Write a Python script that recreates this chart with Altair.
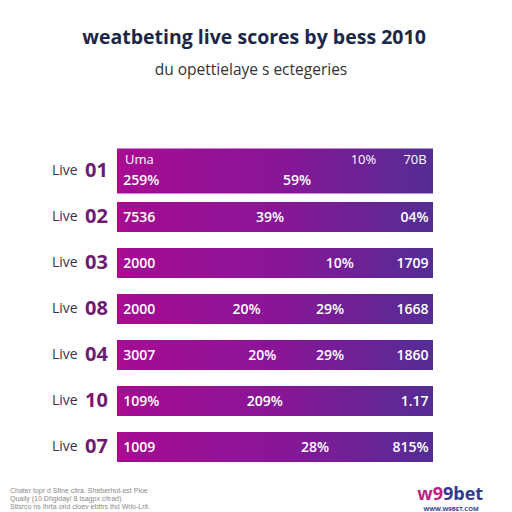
import altair as alt
import pandas as pd

# ---- data ----
rows = ["01", "02", "03", "08", "04", "10", "07"]
bar_start = [0, 0, 0, 0, 0, 0, 0]
bar_end = [100, 100, 100, 100, 100, 100, 100]
bar_thickness = [45, 30, 30, 30, 30, 30, 30]

# text inside bars: row, position along bar (0-100), label, alignment, line
txt_row = ["01", "01", "01", "01", "01",
           "02", "02", "02",
           "03", "03", "03",
           "08", "08", "08", "08",
           "04", "04", "04", "04",
           "10", "10", "10",
           "07", "07", "07"]
txt_pos = [2.5, 78, 98, 2, 57,
           2, 48.4, 98.6,
           2, 70.5, 98.6,
           2, 41, 67.4, 98.6,
           2, 46, 67.4, 98.6,
           2, 46.8, 98.6,
           2, 62.7, 98.6]
txt_label = ["Uma", "10%", "70B", "259%", "59%",
             "7536", "39%", "04%",
             "2000", "10%", "1709",
             "2000", "20%", "29%", "1668",
             "3007", "20%", "29%", "1860",
             "109%", "209%", "1.17",
             "1009", "28%", "815%"]
txt_align = ["left", "center", "right", "left", "center",
             "left", "center", "right",
             "left", "center", "right",
             "left", "center", "center", "right",
             "left", "center", "center", "right",
             "left", "center", "right",
             "left", "center", "right"]
txt_line = ["top", "top", "top", "bottom", "bottom"] + ["mid"] * 20

title_text = "weatbeting live scores by bess 2010"
subtitle_text = "du opettielaye s ectegeries"
footer_lines = ["Chater topr d Sfine citra. Sheberhut-est Ploe",
                "Quaily (10 Dhgiday/ 8 Isagpx citrad).",
                "Stisrco ns Ihrta orid cloev ebttrs thd Wrlo-Lrit."]

bars = pd.DataFrame({"row": rows, "x0": bar_start, "x1": bar_end, "h": bar_thickness})
texts = pd.DataFrame({"row": txt_row, "pos": txt_pos, "label": txt_label,
                      "al": txt_align, "ln": txt_line})

xs = alt.Scale(domain=[0, 100], range=[109, 425])
ys = alt.Scale(domain=rows, range=[140, 462], paddingInner=0, paddingOuter=0)
Y = alt.Y("row:N", scale=ys, axis=None, sort=rows)

grad = alt.LinearGradient(
    gradient="linear", x1=0, x2=1, y1=0, y2=0,
    stops=[alt.GradientStop(color="#a60c92", offset=0),
           alt.GradientStop(color="#8a1597", offset=0.5),
           alt.GradientStop(color="#542d95", offset=1)])

base = alt.Chart(bars)
bar_layer = base.mark_bar(color=grad).encode(
    x=alt.X("x0:Q", scale=xs, axis=None),
    x2="x1:Q",
    y=Y,
    size=alt.Size("h:Q", scale=None, legend=None),
)

live_layer = base.mark_text(align="left", baseline="middle", font="Open Sans",
                            fontSize=14, color="#3d2f50").encode(
    x=alt.value(44), y=Y, text=alt.value("Live"))
num_layer = base.mark_text(align="left", baseline="middle", font="Open Sans",
                           fontSize=20, fontWeight="bold", color="#6d1b6f").encode(
    x=alt.value(77), y=Y, text="row:N")

layers = [bar_layer, live_layer, num_layer]
line_dy = {"top": -11, "mid": 1, "bottom": 10}
tbase = alt.Chart(texts)
for line, dy in line_dy.items():
    for al in ["left", "center", "right"]:
        weight = "normal" if line == "top" else 600
        size = 13 if line == "top" else 14
        layers.append(
            tbase.transform_filter(
                (alt.datum.ln == line) & (alt.datum.al == al)
            ).mark_text(align=al, baseline="middle", dy=dy, font="Open Sans",
                        fontSize=size, fontWeight=weight, color="white").encode(
                x=alt.X("pos:Q", scale=xs, axis=None),
                y=Y,
                text="label:N"))

title_layer = alt.Chart(pd.DataFrame({"t": [title_text]})).mark_text(
    font="Open Sans", fontSize=19.5, fontWeight="bold", color="#1c2748",
    align="center", baseline="middle").encode(x=alt.value(246), y=alt.value(30), text="t:N")
subtitle_layer = alt.Chart(pd.DataFrame({"t": [subtitle_text]})).mark_text(
    font="Open Sans", fontSize=15.5, color="#333333",
    align="center", baseline="middle").encode(x=alt.value(243), y=alt.value(62), text="t:N")
layers += [title_layer, subtitle_layer]

for i, ftxt in enumerate(footer_lines):
    layers.append(alt.Chart(pd.DataFrame({"t": [ftxt]})).mark_text(
        font="Liberation Sans", fontSize=7, color="#8a8a8a", align="left",
        baseline="middle").encode(x=alt.value(2), y=alt.value(483 + 8 * i), text="t:N"))

logo1 = alt.Chart(pd.DataFrame({"t": ["w9"]})).mark_text(
    font="Open Sans", fontSize=18, fontWeight="bold", color="#c01f86",
    align="right", baseline="middle").encode(x=alt.value(435), y=alt.value(487), text="t:N")
logo2 = alt.Chart(pd.DataFrame({"t": ["9bet"]})).mark_text(
    font="Open Sans", fontSize=18, fontWeight="bold", color="#2f3a8e",
    align="left", baseline="middle").encode(x=alt.value(435), y=alt.value(487), text="t:N")
logo3 = alt.Chart(pd.DataFrame({"t": ["WWW.W9BET.COM"]})).mark_text(
    font="Open Sans", fontSize=6, fontWeight="bold", color="#2f3a8e",
    align="center", baseline="middle").encode(x=alt.value(443), y=alt.value(501), text="t:N")
layers += [logo1, logo2, logo3]

chart = alt.layer(*layers).properties(
    width=496, height=504, autosize=alt.AutoSizeParams(type="none"), padding=0,
    background="white"
).configure_view(stroke="transparent", strokeWidth=0)

chart.save("out.html", embed_options={"renderer": "svg", "actions": False})
